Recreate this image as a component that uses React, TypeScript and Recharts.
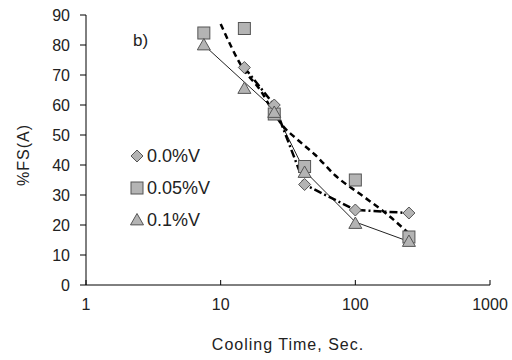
import React from 'react';
import { ComposedChart, Line, XAxis, YAxis } from 'recharts';

const FONT = "'Liberation Sans', Arial, sans-serif";

// axis ticks
const xTicks = [1, 10, 100, 1000];
const yTicks = [0, 10, 20, 30, 40, 50, 60, 70, 80, 90];

// measured points
const timeDia = [15, 25, 42, 100, 250];
const fsDia = [72.5, 60, 33.5, 25, 24];

const timeSq = [7.5, 15, 25, 42, 100, 250];
const fsSq = [84, 85.5, 57, 39.5, 35, 16];

const timeTri = [7.5, 15, 25, 42, 100, 250];
const fsTri = [80, 65.5, 57.5, 37.5, 20.5, 14.5];

// trend curves
const timeSqTrend = [10, 14.5, 20, 24, 29, 36, 50, 71, 115, 173, 245];
const fsSqTrend = [87, 72.5, 64.5, 58.5, 53, 49, 43.5, 36.5, 29.5, 23.5, 17.5];

const timeTriTrend = [7.5, 25, 42, 100, 250];
const fsTriTrend = [80, 58.5, 38, 21, 14.5];

const legendNames = ['0.0%V', '0.05%V', '0.1%V'];

const toPoints = (xs: number[], ys: number[]) => xs.map((x, i) => ({ x, y: ys[i] }));

const MARK_FILL = '#b4b4b4';
const MARK_STROKE = '#555';

const Diamond = ({ cx, cy, size = 6 }: any) => (
  <polygon
    points={`${cx},${cy - size} ${cx + size},${cy} ${cx},${cy + size} ${cx - size},${cy}`}
    fill={MARK_FILL}
    stroke={MARK_STROKE}
    strokeWidth={1}
  />
);

const Square = ({ cx, cy, size = 6 }: any) => (
  <rect x={cx - size} y={cy - size} width={size * 2} height={size * 2} fill={MARK_FILL} stroke={MARK_STROKE} strokeWidth={1} />
);

const Triangle = ({ cx, cy, size = 6.5 }: any) => (
  <polygon
    points={`${cx},${cy - size} ${cx + size},${cy + size * 0.75} ${cx - size},${cy + size * 0.75}`}
    fill={MARK_FILL}
    stroke={MARK_STROKE}
    strokeWidth={1}
  />
);

const dotOf = (Shape: any, name: string) => (p: any) => (
  <g key={`${name}-${p.index}`}>
    <Shape cx={p.cx} cy={p.cy} />
  </g>
);

const XTick = ({ x, y, payload }: any) => (
  <g>
    <line x1={x} y1={y} x2={x} y2={y - 5} stroke="#000" strokeWidth={1} />
    <text x={x} y={y + 25} textAnchor="middle" fill="#222" fontSize={16} fontFamily={FONT}>
      {payload.value}
    </text>
  </g>
);

const YLabel = (props: any) => {
  const vb = props.viewBox;
  const x = vb.x + 29;
  const y = vb.y + vb.height / 2 + 5;
  return (
    <text x={x} y={y} transform={`rotate(-90 ${x} ${y})`} textAnchor="middle" fill="#222" fontSize={16} fontFamily={FONT} letterSpacing={1}>
      %FS(A)
    </text>
  );
};

const legendIcons = [Diamond, Square, Triangle];

export default function App() {
  return (
    <div style={{ position: 'absolute', left: 0, top: 0, width: 512, height: 360, background: '#fff', fontFamily: FONT }}>
      <ComposedChart width={512} height={360} margin={{ top: 15, right: 22, left: 0, bottom: 0 }}>
        <XAxis
          type="number"
          dataKey="x"
          scale="log"
          domain={[1, 1000]}
          ticks={xTicks}
          interval={0}
          allowDataOverflow
          height={75}
          axisLine={{ stroke: '#000', strokeWidth: 1 }}
          tickLine={false}
          tickSize={0}
          tickMargin={0}
          tick={<XTick />}
          label={{ value: 'Cooling Time, Sec.', position: 'insideBottom', offset: 10, fill: '#222', fontSize: 16, fontFamily: FONT, letterSpacing: 1 }}
        />
        <YAxis
          type="number"
          dataKey="y"
          domain={[0, 90]}
          ticks={yTicks}
          interval={0}
          allowDataOverflow
          width={86}
          axisLine={{ stroke: '#000', strokeWidth: 1 }}
          tickLine={{ stroke: '#000', strokeWidth: 1 }}
          tickSize={6}
          tickMargin={10}
          tick={{ fill: '#222', fontSize: 16, fontFamily: FONT }}
          label={{ content: <YLabel /> }}
        />

        <Line data={toPoints(timeSq, fsSq)} dataKey="y" stroke="none" dot={dotOf(Square, 'sq')} isAnimationActive={false} />
        <Line data={toPoints(timeDia, fsDia)} dataKey="y" stroke="none" dot={dotOf(Diamond, 'dia')} isAnimationActive={false} />
        <Line data={toPoints(timeTri, fsTri)} dataKey="y" stroke="none" dot={dotOf(Triangle, 'tri')} isAnimationActive={false} />

        <Line data={toPoints(timeTriTrend, fsTriTrend)} dataKey="y" type="linear" stroke="#222" strokeWidth={1} dot={false} isAnimationActive={false} />
        <Line data={toPoints(timeDia, fsDia)} dataKey="y" type="linear" stroke="#000" strokeWidth={2.5} strokeDasharray="8 3 2 3" dot={false} isAnimationActive={false} />
        <Line data={toPoints(timeSqTrend, fsSqTrend)} dataKey="y" type="monotone" stroke="#000" strokeWidth={2.5} strokeDasharray="6 4" dot={false} isAnimationActive={false} />
      </ComposedChart>

      <div style={{ position: 'absolute', left: 133, top: 31, fontSize: 17, color: '#222' }}>b)</div>

      <div style={{ position: 'absolute', left: 129, top: 140 }}>
        {legendNames.map((name, i) => {
          const Icon = legendIcons[i];
          return (
            <div key={name} style={{ display: 'flex', alignItems: 'center', height: 32, fontSize: 18, color: '#222' }}>
              <svg width={16} height={16} style={{ marginRight: 2 }}>
                <Icon cx={8} cy={8} />
              </svg>
              <span>{name}</span>
            </div>
          );
        })}
      </div>
    </div>
  );
}
